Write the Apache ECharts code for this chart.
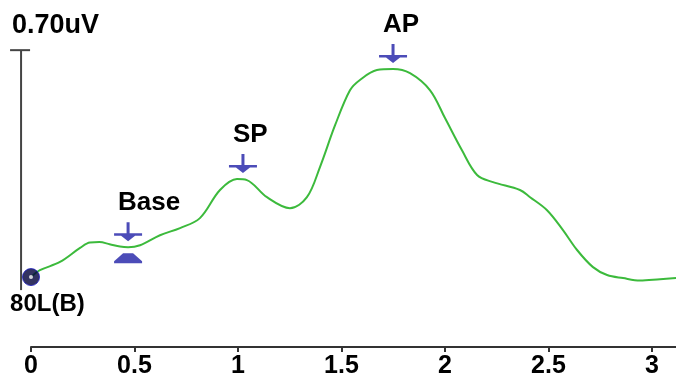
<!DOCTYPE html>
<html><head><meta charset="utf-8">
<script src="https://cdn.jsdelivr.net/npm/echarts@6/dist/echarts.min.js"></script>
<style>html,body{margin:0;padding:0;background:#fff}#c{width:676px;height:381px}</style>
</head><body><div id="c"></div>
<script>
// Time (ms) and amplitude (uV, relative to start) of the trace
const times = [0, 0.043, 0.140, 0.237, 0.285, 0.330, 0.380, 0.430, 0.469, 0.527, 0.623, 0.720, 0.816, 0.913, 0.995, 1.043, 1.140, 1.251, 1.333, 1.396, 1.469, 1.541, 1.589, 1.671, 1.749, 1.831, 1.928, 2.000, 2.082, 2.155, 2.232, 2.362, 2.411, 2.493, 2.570, 2.638, 2.715, 2.783, 2.860, 2.942, 3.039, 3.116];
const amplitudes = [0, 0.020, 0.044, 0.085, 0.101, 0.102, 0.096, 0.089, 0.087, 0.093, 0.122, 0.143, 0.172, 0.254, 0.286, 0.283, 0.233, 0.201, 0.233, 0.321, 0.443, 0.545, 0.575, 0.604, 0.607, 0.595, 0.545, 0.464, 0.370, 0.298, 0.277, 0.254, 0.233, 0.195, 0.137, 0.079, 0.029, 0.006, -0.003, -0.010, -0.006, -0.003];
const xTickValues = [0, 0.5, 1, 1.5, 2, 2.5, 3];
const peakNames = ['Base', 'SP', 'AP'];
const peakTimes = [0.469, 1.024, 1.749];
const peakValues = [0.087, 0.286, 0.607];
const scaleBarValue = 0.70;
const scaleBarText = '0.70uV';
const channelText = '80L(B)';

const chart = echarts.init(document.getElementById('c'), null, {renderer: 'canvas'});
const trace = times.map((t, i) => [t, amplitudes[i]]);
const peaks = peakTimes.map((t, i) => [t, peakValues[i]]);
const navy = '#1f1fa6';
const textFont = {fontFamily: "'Liberation Sans', Arial, sans-serif", fontWeight: 'bold'};

chart.setOption({
  animation: false,
  backgroundColor: '#fff',
  grid: {left: 31, right: 0, top: 20, bottom: 34},
  xAxis: {
    type: 'value', min: 0, max: times[times.length - 1],
    splitLine: {show: false},
    axisLine: {show: true, onZero: false, lineStyle: {color: '#333', width: 2}},
    axisTick: {show: true, length: 5, lineStyle: {color: '#333', width: 2}, customValues: xTickValues},
    axisLabel: {
      customValues: xTickValues, margin: 7, color: '#000',
      fontFamily: "'Liberation Sans', Arial, sans-serif",
      fontWeight: 'bold', fontSize: 25
    }
  },
  yAxis: {type: 'value', show: false, min: -0.204, max: 0.75, splitLine: {show: false}},
  series: [
    {
      type: 'line', data: trace, smooth: 0.35, symbol: 'none', z: 2,
      lineStyle: {color: '#3cba3c', width: 2}
    },
    {
      type: 'scatter', data: [trace[0]], z: 4,
      symbol: 'circle', symbolSize: 17,
      itemStyle: {color: '#00003a', borderColor: '#1a1ac0', borderWidth: 1}
    },
    {
      type: 'scatter', data: [trace[0]], z: 5,
      symbol: 'circle', symbolSize: 4,
      itemStyle: {color: '#fff'}
    },
    {
      type: 'scatter', data: peaks, z: 3,
      symbol: 'path://M12.5,0 H15.5 V11 H28 V13.5 H21 L14,19 L7,13.5 H0 V11 H12.5 Z',
      symbolSize: [28, 19], symbolKeepAspect: false, symbolOffset: [0, -15.5],
      itemStyle: {color: navy}
    },
    {
      type: 'scatter', data: [peaks[0]], z: 3,
      symbol: 'path://M9,0 H19 L28,8 V10 H0 V8 Z',
      symbolSize: [28, 10], symbolOffset: [0, 11],
      itemStyle: {color: navy}
    }
  ]
});

// Annotations positioned through the chart's own scales
const scaleBarTime = -0.048, scaleBarBottom = -0.038;
const pb = chart.convertToPixel({gridIndex: 0}, [scaleBarTime, scaleBarBottom]);
const pt = chart.convertToPixel({gridIndex: 0}, [scaleBarTime, scaleBarBottom + scaleBarValue]);
const graphics = [
  {type: 'line', shape: {x1: pb[0], y1: pb[1], x2: pt[0], y2: pt[1]}, style: {stroke: '#444', lineWidth: 2}},
  {type: 'line', shape: {x1: pt[0] - 11, y1: pt[1], x2: pt[0] + 9, y2: pt[1]}, style: {stroke: '#444', lineWidth: 2}},
  {type: 'text', x: pt[0] - 9, y: pt[1] - 25, style: Object.assign({text: scaleBarText, fontSize: 27, fill: '#000', verticalAlign: 'middle', align: 'left'}, textFont)},
  {type: 'text', x: pb[0] - 11, y: pb[1] + 14, style: Object.assign({text: channelText, fontSize: 24, fill: '#000', verticalAlign: 'middle', align: 'left'}, textFont)}
];
peaks.forEach((p, i) => {
  const px = chart.convertToPixel({gridIndex: 0}, p);
  graphics.push({type: 'text', x: px[0] - 10, y: px[1] - 44, style: Object.assign({text: peakNames[i], fontSize: 26, fill: '#000', verticalAlign: 'middle', align: 'left'}, textFont)});
});
chart.setOption({graphic: graphics});
</script>
</body></html>
